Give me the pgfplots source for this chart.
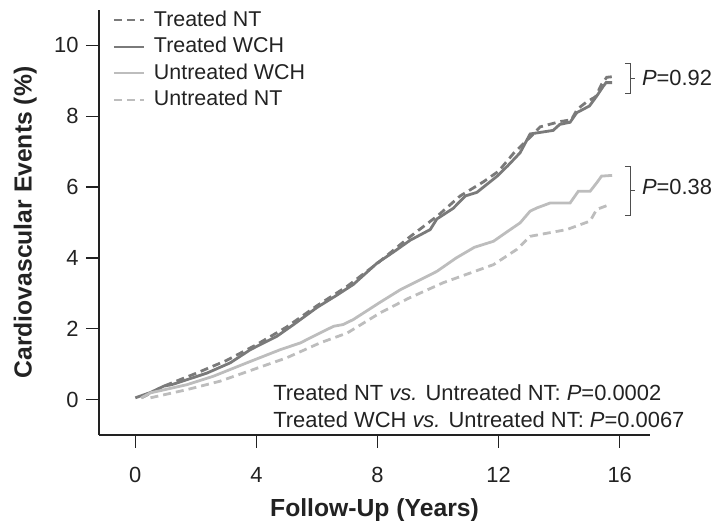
\documentclass[border=0pt]{standalone}
\usepackage{fontspec}
\setmainfont{Liberation Sans}
\usepackage{pgfplots}
\pgfplotsset{compat=1.18}
\definecolor{darkline}{HTML}{7A7A7A}
\definecolor{lightline}{HTML}{BDBDBD}
\definecolor{ink}{HTML}{222222}

\begin{document}
\begin{tikzpicture}
\begin{axis}[
    scale only axis,
    width=551bp, height=425bp,
    xmin=-1.2, xmax=17,
    ymin=-1, ymax=11,
    axis lines=left,
    axis line style={-, ink, line width=1.4bp},
    xtick={0,4,8,12,16},
    ytick={0,2,4,6,8,10},
    tick align=outside,
    major tick length=13bp,
    tick style={ink, line width=1.2bp},
    /pgf/number format/assume math mode=true,
    tick label style={font=\fontsize{22}{26}\selectfont, text=ink},
    xticklabel style={anchor=center, yshift=-26.5bp},
    yticklabel style={anchor=east, xshift=-4bp},
    xlabel={Follow-Up (Years)},
    ylabel={Cardiovascular Events (\%)},
    label style={font=\bfseries\fontsize{24.8}{28}\selectfont, text=ink},
    xlabel style={at={(axis description cs:0.5,-0.177)}, anchor=center},
    ylabel style={at={(axis description cs:-0.134,0.5)}, anchor=center},
    clip=false,
    legend cell align=left,
    legend image code/.code={\draw[#1, line width=2bp] (0bp,0bp) -- (30bp,0bp);},
    legend style={draw=none, fill=none, at={(axis description cs:0.025,1)},
        anchor=north west, inner sep=0pt, column sep=9bp, row sep=6.5bp,
        font=\fontsize{21.5}{26}\selectfont, text=ink,
        nodes={inner sep=0pt, text height=16bp, text depth=4bp}},
]
% Treated NT
\addplot[darkline, line width=2.8bp, dash pattern=on 8bp off 5bp] coordinates {
 (0.2,0.05) (1,0.4) (2,0.74) (3,1.1) (4,1.55) (5,2.05) (6,2.65) (7,3.2)
 (8,3.85) (9,4.55) (10,5.2) (10.73,5.75) (11.5,6.15) (12,6.45) (12.49,6.95)
 (13.15,7.5) (13.37,7.7) (14.03,7.85) (14.4,7.9) (14.6,8.2) (14.9,8.4)
 (15.2,8.55) (15.4,8.9) (15.57,9.1) (15.8,9.12)
};
\addlegendentry{Treated NT}
% Treated WCH
\addplot[darkline, line width=2.8bp] coordinates {
 (0,0.05) (0.5,0.2) (0.94,0.38) (1.2,0.42) (1.7,0.56) (2.37,0.75) (3.14,1.04)
 (3.8,1.41) (4.68,1.79) (5.23,2.12) (6.0,2.6) (6.66,2.95) (7.2,3.25) (7.98,3.85)
 (8.5,4.15) (9.08,4.5) (9.74,4.8) (9.96,5.1) (10.5,5.4) (10.9,5.75) (11.28,5.85)
 (11.94,6.3) (12.3,6.6) (12.71,6.97) (13.04,7.5) (13.8,7.6) (14.02,7.77)
 (14.36,7.83) (14.58,8.1) (15.0,8.29) (15.24,8.57) (15.46,8.85) (15.55,8.95)
 (15.75,8.95)
};
\addlegendentry{Treated WCH}
% Untreated WCH
\addplot[lightline, line width=2.8bp] coordinates {
 (0.2,0.05) (0.5,0.19) (1.7,0.42) (2.58,0.66) (3.69,1.04) (4.79,1.41) (5.45,1.6)
 (6.1,1.88) (6.55,2.07) (6.87,2.12) (7.2,2.26) (8.09,2.75) (8.75,3.1) (9.96,3.62)
 (10.6,4.0) (11.2,4.3) (11.83,4.47) (12.3,4.75) (12.71,4.99) (13.04,5.32)
 (13.26,5.41) (13.7,5.55) (14.36,5.55) (14.63,5.88) (15.02,5.88) (15.24,6.12)
 (15.4,6.31) (15.75,6.33)
};
\addlegendentry{Untreated WCH}
% Untreated NT
\addplot[lightline, line width=2.8bp, dash pattern=on 8bp off 5bp] coordinates {
 (0.5,0.05) (1.7,0.28) (2.8,0.52) (3.9,0.85) (5.0,1.18) (6.1,1.6) (7.0,1.88)
 (8.09,2.45) (9,2.85) (10.17,3.3) (11.83,3.81) (12.6,4.24) (13.04,4.61)
 (14.25,4.8) (15.02,5.04) (15.24,5.37) (15.68,5.51)
};
\addlegendentry{Untreated NT}

% brackets and P values
\draw[ink!80, line width=0.9bp] (axis cs:16.17,9.49) -- (axis cs:16.34,9.49) -- (axis cs:16.34,8.64) -- (axis cs:16.17,8.64);
\draw[ink!80, line width=0.9bp] (axis cs:16.34,9.06) -- (axis cs:16.5,9.06);
\draw[ink!80, line width=0.9bp] (axis cs:16.17,6.59) -- (axis cs:16.34,6.59) -- (axis cs:16.34,5.21) -- (axis cs:16.17,5.21);
\draw[ink!80, line width=0.9bp] (axis cs:16.34,5.9) -- (axis cs:16.5,5.9);
\node[anchor=base west, inner sep=0pt, text=ink, font=\fontsize{22}{26}\selectfont] at (axis cs:16.73,8.88) {\textit{P}=0.92};
\node[anchor=base west, inner sep=0pt, text=ink, font=\fontsize{22}{26}\selectfont] at (axis cs:16.73,5.78) {\textit{P}=0.38};

\node[anchor=base west, inner sep=0pt, text=ink, font=\fontsize{22}{26}\selectfont] at (axis cs:4.55,-0.03) {Treated NT \textit{vs.} Untreated NT: \textit{P}=0.0002};
\node[anchor=base west, inner sep=0pt, text=ink, font=\fontsize{22}{26}\selectfont] at (axis cs:4.55,-0.79) {Treated WCH \textit{vs.} Untreated NT: \textit{P}=0.0067};
\end{axis}
\pgfresetboundingbox
\path[use as bounding box] (current axis.south west) ++(-99bp,-86bp) rectangle ++(715bp,521bp);
\end{tikzpicture}
\end{document}
